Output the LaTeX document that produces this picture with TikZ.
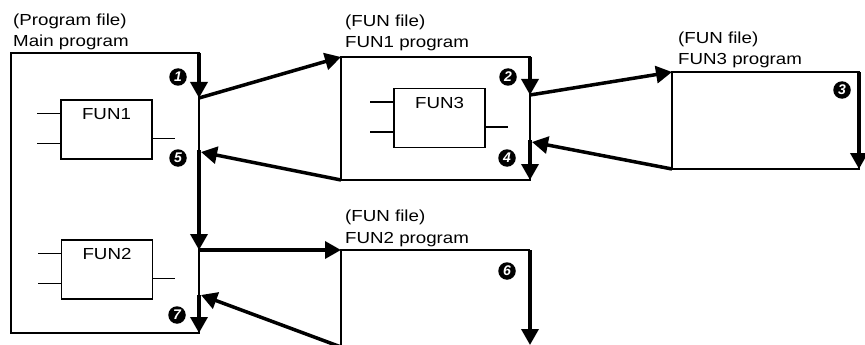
\documentclass[tikz,border=0pt]{standalone}
\usepackage{fontspec}
\setmainfont{Liberation Sans}[FakeStretch=1.17]
\newfontfamily\numfont{Liberation Sans}
\usetikzlibrary{arrows.meta,calc}
\begin{document}
\begin{tikzpicture}[x=1pt,y=-1pt,
  thinline/.style={line width=1.3pt},
  flow/.style={line width=3.5pt,-{Triangle[length=16pt,width=17pt]}},
  fbox/.style={draw,line width=1.3pt,minimum width=91pt,minimum height=59pt,inner sep=0pt},
  lbl/.style={inner sep=0pt,anchor=base west,font=\fontsize{16}{19}\selectfont},
  flbl/.style={inner sep=0pt,anchor=base,font=\fontsize{16}{19}\selectfont},
  num/.style={circle,fill=black,text=white,minimum size=17.5pt,inner sep=0pt,
    font=\numfont\fontsize{14}{14}\selectfont\bfseries\itshape}
]
\clip (0,0) rectangle (865,345);
\useasboundingbox (0,0) rectangle (865,345);

% ---- corner coordinates ----
\coordinate (mTL) at (11,53);
\coordinate (mTR) at (199,53);
\coordinate (mBR) at (199,333);
\coordinate (m1) at (199,98);
\coordinate (m5s) at (199,150);
\coordinate (m5) at (201,152);
\coordinate (m6) at (199,250);
\coordinate (m7s) at (199,295);
\coordinate (m7) at (201,295);

\coordinate (f1TL) at (341,57);
\coordinate (f1TR) at (530,57);
\coordinate (f1BL) at (341,180);
\coordinate (f1BR) at (530,180);
\coordinate (f1a) at (530,95);
\coordinate (f1b) at (532,142);
\coordinate (f1c) at (530,140);

\coordinate (f3TL) at (672,72);
\coordinate (f3TR) at (859,72);
\coordinate (f3BL) at (672,169);
\coordinate (f3BR) at (859,169);

\coordinate (f2TL) at (341,250);
\coordinate (f2TR) at (530,250);
\coordinate (f2BL) at (341,347);
\coordinate (f2BR) at (530,345);

% ---- program boxes ----
\draw[thinline] (mTL) rectangle (mBR);
\draw[thinline] (f1TL) rectangle (f1BR);
\draw[thinline] (f3TL) rectangle (f3BR);
\draw[thinline] (f2BL) -- (f2TL) -- (f2TR);

% ---- headings ----
\node[lbl] (h1a) at (13,26) {(Program file)};
\node[lbl] (h1b) at (13,47) {Main program};
\node[lbl] (h2a) at (345,27) {(FUN file)};
\node[lbl] (h2b) at (345,48) {FUN1 program};
\node[lbl] (h3a) at (678,44) {(FUN file)};
\node[lbl] (h3b) at (678,65) {FUN3 program};
\node[lbl] (h4a) at (345,221) {(FUN file)};
\node[lbl] (h4b) at (345,243) {FUN2 program};

% ---- function blocks ----
\foreach \nm/\cx/\cy/\txt in {fun1/106.5/129.5/FUN1, fun2/107/269.5/FUN2, fun3/439.5/118/FUN3}{
  \node[fbox] (\nm) at (\cx,\cy) {};
  \node[flbl] at ($(\nm.north)+(0,20.5)$) {\txt};
  \draw[thinline] ($(\nm.north west)+(0,14)$) -- ++(-23,0);
  \draw[thinline] ($(\nm.north west)+(0,44)$) -- ++(-23,0);
  \draw[thinline] ($(\nm.north east)+(0,39)$) -- ++(22,0);
}

% ---- flow arrows ----
\draw[flow] (mTR) -- (m1);
\draw[flow] (m1) -- (f1TL);
\draw[flow] (f1TR) -- (f1a);
\draw[flow] (f1a) -- (f3TL);
\draw[flow] (f3TR) -- (f3BR);
\draw[flow] (f3BL) -- (f1b);
\draw[flow] (f1c) -- (f1BR);
\draw[flow] (f1BL) -- (m5);
\draw[flow] (m5s) -- (m6);
\draw[flow] (m6) -- (f2TL);
\draw[flow] (f2TR) -- (f2BR);
\draw[flow] (f2BL) -- (m7);
\draw[flow] (m7s) -- (mBR);

% ---- step numbers ----
\node[num] (n1) at (178,77) {1};
\node[num] (n2) at (508,77) {2};
\node[num] (n3) at (842,90) {3};
\node[num] (n4) at (507,158) {4};
\node[num] (n5) at (178,158) {5};
\node[num] (n6) at (507,271) {6};
\node[num] (n7) at (177,315) {7};
\end{tikzpicture}
\end{document}
